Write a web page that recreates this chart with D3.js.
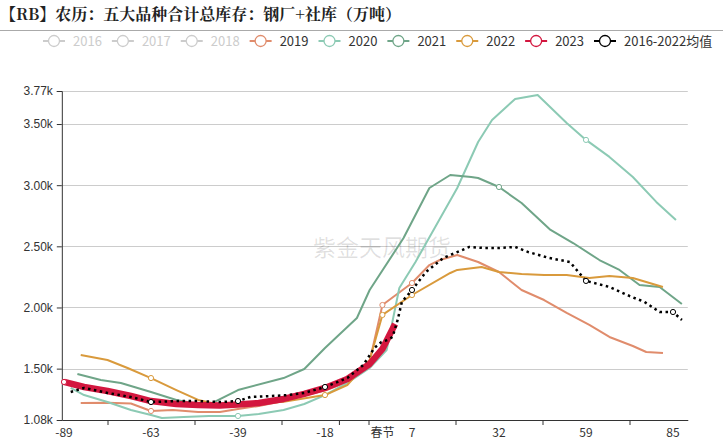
<!DOCTYPE html>
<html>
<head>
<meta charset="utf-8">
<script src="https://cdn.jsdelivr.net/npm/d3@7"></script>
<style>
    html, body { margin: 0; padding: 0; background: #fff; }
    svg { display: block; font-family: "Microsoft YaHei", "Noto Sans CJK SC", "Noto Sans", sans-serif; }
</style>
</head>
<body>
<div id="chart"></div>
<script>
// x categories: days relative to the Spring Festival (lunar calendar)
const xLabelDays = [-89, -63, -39, -18, 0, 7, 32, 59, 85];
const xLabels = ["-89", "-63", "-39", "-18", "春节", "7", "32", "59", "85"];

const yTicks = [1080, 1500, 2000, 2500, 3000, 3500, 3770];
const yLabels = ["1.08k", "1.50k", "2.00k", "2.50k", "3.00k", "3.50k", "3.77k"];

const legendNames = ["2016", "2017", "2018", "2019", "2020", "2021", "2022", "2023", "2016-2022均值"];
const hiddenNames = ["2016", "2017", "2018"];

// [day, 万吨]
const s2019 = [[-84, 1219], [-76, 1222], [-69, 1215], [-63, 1154], [-57, 1162], [-50, 1146], [-44, 1146], [-39, 1170],
    [-34, 1195], [-28, 1236], [-23, 1280], [-18, 1320], [-11, 1390], [-4, 1560], [0, 2020], [7, 2200], [12, 2347],
    [15, 2388], [20, 2429], [26, 2372], [32, 2290], [39, 2143], [46, 2061], [53, 1955], [60, 1857], [66, 1759],
    [73, 1685], [77, 1636], [82, 1628]];
const s2020 = [[-87, 1342], [-83, 1284], [-76, 1227], [-69, 1162], [-63, 1121], [-60, 1096], [-54, 1105], [-47, 1113],
    [-39, 1113], [-34, 1129], [-28, 1162], [-23, 1211], [-18, 1284], [-11, 1383], [-4, 1505], [1, 1652], [4, 2159],
    [8, 2372], [14, 2674], [20, 2977], [26, 3353], [30, 3533], [37, 3705], [44, 3738], [53, 3509], [59, 3370],
    [66, 3231], [73, 3067], [80, 2863], [86, 2715]];
const s2021 = [[-85, 1456], [-78, 1407], [-72, 1383], [-63, 1309], [-56, 1244], [-50, 1211], [-47, 1205], [-39, 1325],
    [-28, 1423], [-23, 1497], [-18, 1669], [-11, 1840], [-8, 1914], [-4, 2143], [5, 2568], [12, 2977], [18, 3083],
    [24, 3067], [26, 3059], [32, 2985], [39, 2854], [48, 2634], [55, 2527], [63, 2388], [69, 2307], [75, 2184],
    [81, 2168], [88, 2029]];
const s2022 = [[-84, 1611], [-76, 1571], [-70, 1505], [-63, 1423], [-56, 1325], [-50, 1244], [-45, 1211], [-39, 1205],
    [-28, 1230], [-18, 1284], [-11, 1366], [-4, 1571], [0, 1939], [7, 2102], [18, 2282], [20, 2307], [27, 2331],
    [32, 2290], [39, 2274], [46, 2266], [53, 2266], [60, 2241], [66, 2258], [73, 2241], [82, 2168]];
const s2023 = [[-89, 1391], [-83, 1350], [-76, 1317], [-69, 1276], [-63, 1235], [-56, 1211], [-50, 1203], [-44, 1199],
    [-39, 1207], [-34, 1219], [-28, 1252], [-23, 1293], [-18, 1342], [-11, 1415], [-4, 1538], [0, 1661], [3, 1865]];
const sAvg = [[-87, 1309], [-83, 1342], [-76, 1301], [-69, 1268], [-63, 1227], [-56, 1235], [-50, 1235], [-44, 1227],
    [-39, 1235], [-36, 1268], [-31, 1276], [-27, 1284], [-23, 1301], [-18, 1350], [-11, 1423], [-6, 1530],
    [-2.5, 1669], [-0.3, 1718], [1.2, 1734], [2.4, 1759], [3.6, 1898], [4.6, 2045], [7, 2143], [11, 2290],
    [16, 2405], [23.5, 2495], [28, 2486], [32, 2486], [37, 2495], [41, 2454], [47.5, 2405], [54, 2372], [59, 2217],
    [66, 2168], [72, 2094], [76.5, 2045], [81, 1963], [85, 1963], [88, 1898]];

const series = [
    { name: "2019", data: s2019, color: "#e08c6c", width: 2, marks: [-63, 0, 7] },
    { name: "2020", data: s2020, color: "#8ccab4", width: 2, marks: [-39, 59] },
    { name: "2021", data: s2021, color: "#6fa588", width: 2, marks: [32] },
    { name: "2022", data: s2022, color: "#d99a3c", width: 2, marks: [-63, -18, 0, 7] },
    { name: "2023", data: s2023, color: "#d3173f", width: 6.5, marks: [-89] },
    { name: "2016-2022均值", data: sAvg, color: "#000", width: 2.5, dash: "2.5,3.5", marks: [-63, -39, -18, 7, 59, 85] }
];
const legendColor = {
    "2016": "#ccc", "2017": "#ccc", "2018": "#ccc",
    "2019": "#e08c6c", "2020": "#8ccab4", "2021": "#6fa588", "2022": "#d99a3c", "2023": "#d3173f", "2016-2022均值": "#000"
};

const width = 723, height = 444;
const svg = d3.select("#chart").append("svg")
    .attr("width", width)
    .attr("height", height);

// title + rule
svg.append("text")
    .attr("x", 0).attr("y", 20)
    .attr("font-size", "16px")
    .attr("font-weight", "bold")
    .attr("fill", "#222")
    .style("font-family", "\"Noto Serif CJK SC\", \"Noto Sans CJK SC\", serif")
    .text("【RB】农历：五大品种合计总库存：钢厂+社库（万吨）");
svg.append("line")
    .attr("x1", 0).attr("x2", width)
    .attr("y1", 30.5).attr("y2", 30.5)
    .attr("stroke", "#aaa");

// scales: category positions are evenly spaced by label, 春节 sits between
const x0 = 64, step = 87;
const slots = [-0.025, 0, 1, 2, 3, 3.66, 4, 5, 6, 7, 7.17];
const x = d3.scaleLinear()
    .domain([-89.6].concat(xLabelDays, [90]))
    .range(slots.map(s => x0 + s * step));
const y = d3.scaleLinear().domain([1080, 3770]).range([420, 91]);

const left = x.range()[0], right = x.range()[x.range().length - 1];

// gridlines
svg.append("g")
    .selectAll("line")
    .data(yTicks.slice(1))
    .enter().append("line")
    .attr("x1", left).attr("x2", right)
    .attr("y1", d => Math.round(y(d)) + 0.5)
    .attr("y2", d => Math.round(y(d)) + 0.5)
    .attr("stroke", "#ccc");

// watermark
svg.append("text")
    .attr("x", 382).attr("y", 256)
    .attr("text-anchor", "middle")
    .attr("font-size", "23px")
    .attr("fill", "#000")
    .attr("fill-opacity", 0.12)
    .text("紫金天风期货");

// y axis
const yAxis = svg.append("g")
    .attr("transform", `translate(${left},0)`)
    .call(d3.axisLeft(y).tickValues(yTicks).tickSize(5).tickFormat((d, i) => yLabels[i]));
yAxis.select(".domain").attr("stroke", "#333");
yAxis.selectAll(".tick line").attr("stroke", "#333");
yAxis.selectAll(".tick text").attr("fill", "#333").attr("font-size", "12px").attr("dx", "-1");

// x axis: ticks between labels
const tickSlots = [0.5, 1.5, 2.5, 3.16, 3.5, 4.5, 5.5, 6.5];
const xAxis = svg.append("g")
    .attr("transform", "translate(0,420)")
    .call(d3.axisBottom(x).tickValues(tickSlots.map(s => x.invert(x0 + s * step))).tickSize(5).tickSizeOuter(0).tickFormat(""));
xAxis.select(".domain").attr("stroke", "#333");
xAxis.selectAll(".tick line").attr("stroke", "#333");

svg.append("g")
    .selectAll("text")
    .data(xLabelDays)
    .enter().append("text")
    .attr("x", d => x(d))
    .attr("y", 437)
    .attr("text-anchor", "middle")
    .attr("font-size", "12px")
    .attr("fill", "#333")
    .text((d, i) => xLabels[i]);

// lines
const line = d3.line()
    .x(d => x(d[0]))
    .y(d => y(d[1]));

series.forEach(s => {
    svg.append("path")
        .datum(s.data)
        .attr("fill", "none")
        .attr("stroke", s.color)
        .attr("stroke-width", s.width)
        .attr("stroke-linejoin", "round")
        .attr("stroke-dasharray", s.dash || null)
        .attr("d", line);

    svg.append("g")
        .selectAll("circle")
        .data(s.data.filter(d => s.marks.includes(d[0])))
        .enter().append("circle")
        .attr("cx", d => x(d[0]))
        .attr("cy", d => y(d[1]))
        .attr("r", 2.6)
        .attr("fill", "#fff")
        .attr("stroke", s.color)
        .attr("stroke-width", 1);
});

// legend
const legend = svg.append("g").attr("transform", "translate(43,41)");
let lx = 0;
legendNames.forEach(name => {
    const c = legendColor[name];
    const off = hiddenNames.includes(name);
    const g = legend.append("g").attr("transform", `translate(${lx},0)`);
    g.append("line")
        .attr("x1", 0).attr("x2", 22)
        .attr("stroke", c).attr("stroke-width", 2);
    g.append("circle")
        .attr("cx", 11).attr("r", 5.5)
        .attr("fill", "#fff")
        .attr("stroke", c).attr("stroke-width", 1.3);
    const t = g.append("text")
        .attr("x", 30).attr("y", 4.5)
        .attr("font-size", "13px")
        .attr("fill", off ? "#ccc" : "#333")
        .text(name);
    lx += 30 + t.node().getComputedTextLength() + 10;
});
</script>
</body>
</html>
